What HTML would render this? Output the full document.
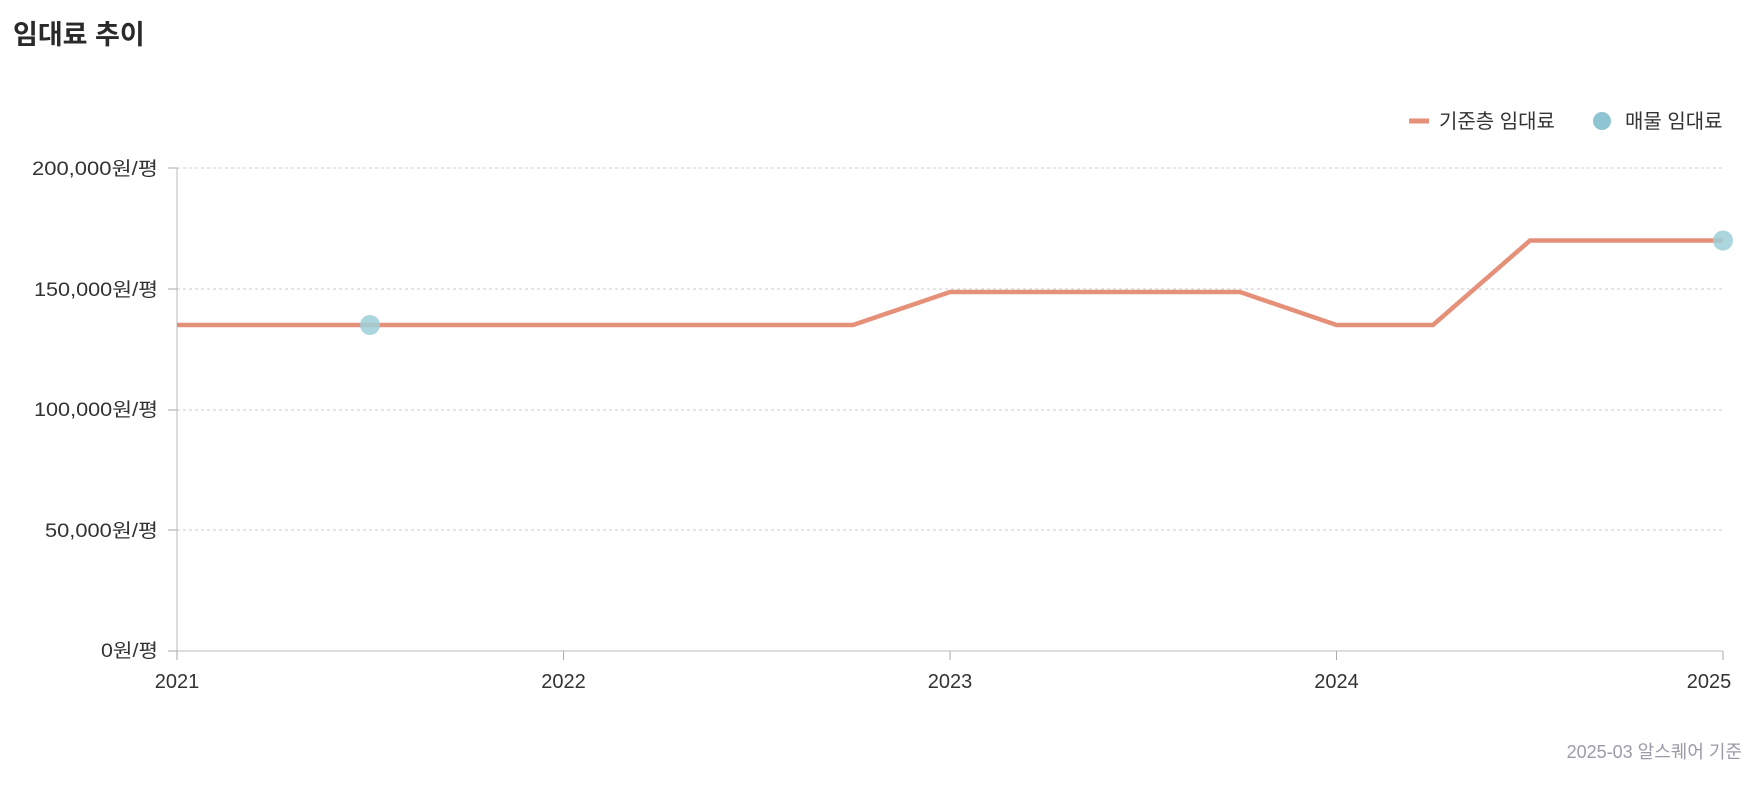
<!DOCTYPE html>
<html><head><meta charset="utf-8"><style>
body{margin:0;background:#fff;width:1760px;height:780px;overflow:hidden}
svg text{font-family:"Liberation Sans","Noto Sans CJK KR",sans-serif}
</style></head><body>
<svg width="1760" height="780" xmlns="http://www.w3.org/2000/svg">
<text x="13" y="44" font-size="27" font-weight="bold" fill="#2a2a2a">임대료 추이</text>
<line x1="1409" y1="121" x2="1429" y2="121" stroke="#e5917a" stroke-width="5"/>
<text x="1439" y="128" font-size="20" fill="#333">기준층 임대료</text>
<circle cx="1602" cy="121" r="9" fill="#8fc5d2"/>
<text x="1625" y="128" font-size="20" fill="#333">매물 임대료</text>
<g stroke="#ccc" stroke-dasharray="3,3" stroke-width="1">
<line x1="177" y1="168" x2="1723" y2="168"/>
<line x1="177" y1="289" x2="1723" y2="289"/>
<line x1="177" y1="410" x2="1723" y2="410"/>
<line x1="177" y1="530" x2="1723" y2="530"/>
</g>
<line x1="177" y1="651" x2="1723" y2="651" stroke="#bbb"/>
<line x1="177" y1="168" x2="177" y2="651" stroke="#bbb"/>
<g stroke="#aaa">
<line x1="168" y1="168" x2="177" y2="168"/><line x1="168" y1="289" x2="177" y2="289"/>
<line x1="168" y1="410" x2="177" y2="410"/><line x1="168" y1="530" x2="177" y2="530"/>
<line x1="168" y1="651" x2="177" y2="651"/>
<line x1="177" y1="651" x2="177" y2="660"/><line x1="563.5" y1="651" x2="563.5" y2="660"/>
<line x1="950" y1="651" x2="950" y2="660"/><line x1="1336.5" y1="651" x2="1336.5" y2="660"/>
<line x1="1723" y1="651" x2="1723" y2="660"/>
</g>
<g font-size="19" fill="#333" text-anchor="end">
<text x="158" y="175" textLength="126" lengthAdjust="spacingAndGlyphs">200,000원/평</text>
<text x="158" y="296" textLength="124" lengthAdjust="spacingAndGlyphs">150,000원/평</text>
<text x="158" y="416" textLength="124" lengthAdjust="spacingAndGlyphs">100,000원/평</text>
<text x="158" y="537" textLength="113" lengthAdjust="spacingAndGlyphs">50,000원/평</text>
<text x="158" y="657" textLength="57" lengthAdjust="spacingAndGlyphs">0원/평</text>
</g>
<g font-size="20" fill="#333" text-anchor="middle">
<text x="177" y="688">2021</text><text x="563.5" y="688">2022</text>
<text x="950" y="688">2023</text><text x="1336.5" y="688">2024</text>
<text x="1709" y="688">2025</text>
</g>
<polyline fill="none" stroke="#e5917a" stroke-width="4.5" points="177,325 853,325 950,292 1240,292 1336.5,325 1433,325 1530,240.5 1723,240.5"/>
<circle cx="370" cy="325" r="10" fill="#9ccfd8" fill-opacity="0.85"/>
<circle cx="1723" cy="240.5" r="10" fill="#9ccfd8" fill-opacity="0.85"/>
<text x="1742" y="758" font-size="18" fill="#9a9ba8" text-anchor="end">2025-03 알스퀘어 기준</text>
</svg>
</body></html>
